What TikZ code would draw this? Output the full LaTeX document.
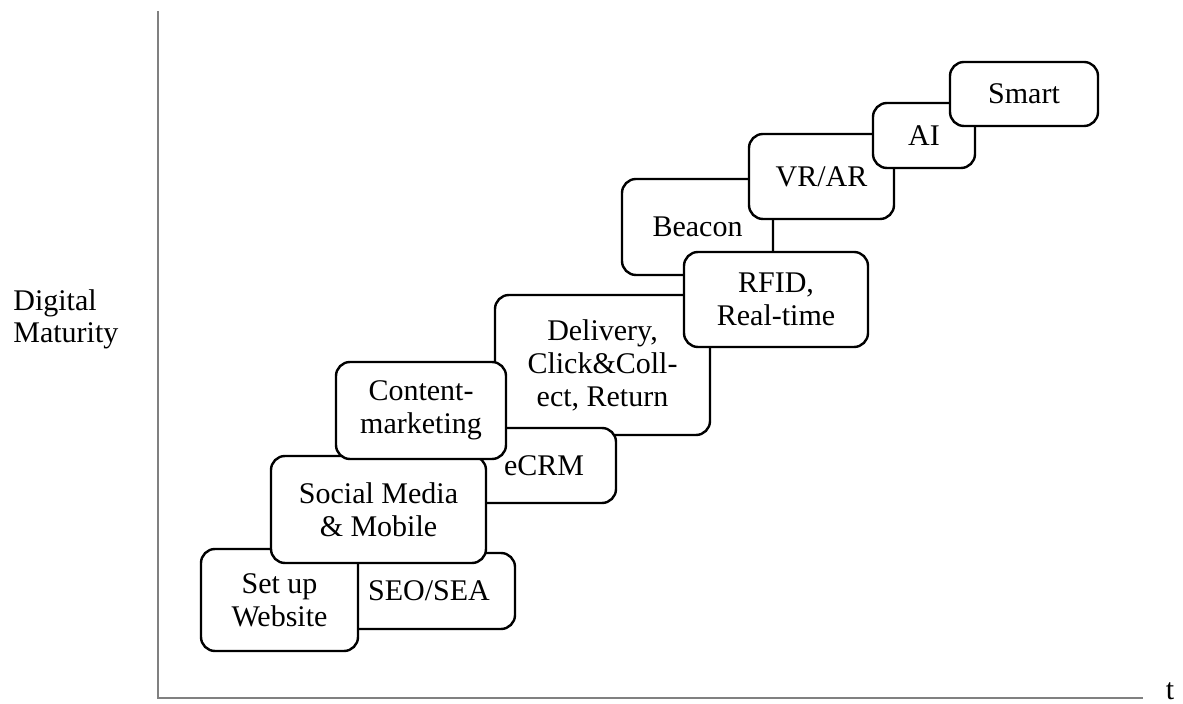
\documentclass[tikz,border=0pt]{standalone}
\usepackage{fontspec}
\setmainfont{Liberation Serif}
\usetikzlibrary{positioning}

\begin{document}
\begin{tikzpicture}[x=0.5pt,y=-0.5pt,on grid,
    stage/.style={draw,line width=1.2pt,rounded corners=7pt,fill=white,
      align=center,inner sep=0pt,font=\fontsize{15}{16.5}\selectfont},
    axis/.style={draw=gray,line width=1.4pt},
    label/.style={inner sep=0pt,font=\fontsize{15}{16}\selectfont}]
    \useasboundingbox (0,0) rectangle (1183,704);
    % axes
    \coordinate (ytop) at (158,11);
    \coordinate (origin) at (158,698);
    \coordinate (xend) at (1143,698);
    \draw[axis] (ytop) -- (origin) -- (xend);
    \node[label,anchor=west,align=left] (maturity) at (13,319) {Digital\\Maturity};
    \node[label,anchor=base] (time) at (1170,700) {t};
    % stages, back to front
    \node[stage,minimum width=86pt,minimum height=38pt] (seo) at (429,591) {SEO/SEA};
    \node[stage,minimum width=78.5pt,minimum height=51pt] (website) [below left=4.5pt and 74.75pt of seo] {Set up\\Website};
    \node[stage,minimum width=107.5pt,minimum height=70pt] (delivery) [above right=117.5pt and 161.5pt of website] {Delivery,\\Click\&Coll-\\ect, Return};
    \node[stage,minimum width=72pt,minimum height=37.5pt] (ecrm) [below left=50.25pt and 29.25pt of delivery] {eCRM};
    \node[stage,minimum width=107.5pt,minimum height=53.5pt] (social) [above right=45.25pt and 49.5pt of website] {Social Media\\\& Mobile};
    \node[stage,minimum width=85pt,minimum height=48.5pt] (content) [above right=49.5pt and 21.25pt of social] {Content-\\marketing};
    \node[stage,minimum width=75.5pt,minimum height=48pt] (beacon) [above right=69pt and 47.5pt of delivery] {Beacon};
    \node[stage,minimum width=92pt,minimum height=47.5pt] (rfid) [above right=32.75pt and 86.75pt of delivery] {RFID,\\Real-time};
    \node[stage,minimum width=72.5pt,minimum height=42.5pt] (vrar) [above right=61.5pt and 22.75pt of rfid] {VR/AR};
    \node[stage,minimum width=51pt,minimum height=32.5pt] (ai) [above right=20.5pt and 51.25pt of vrar] {AI};
    \node[stage,minimum width=74pt,minimum height=32pt] (smart) [above right=20.75pt and 50pt of ai] {Smart};
\end{tikzpicture}
\end{document}
